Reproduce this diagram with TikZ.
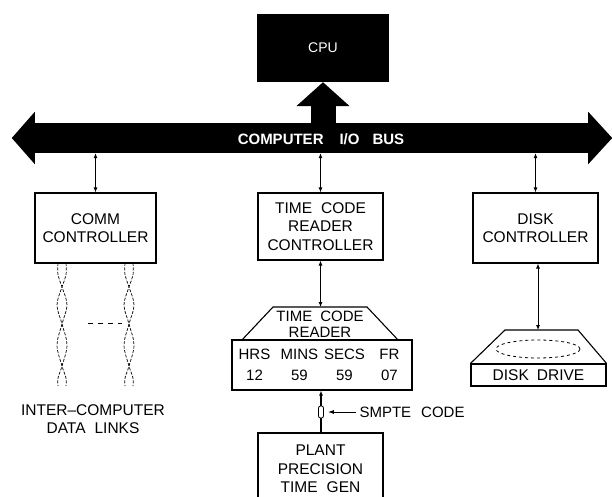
\documentclass[tikz,border=0pt]{standalone}
\usepackage{fontspec}
\setmainfont{Liberation Sans}
\usetikzlibrary{arrows.meta, positioning}

\begin{document}
\begin{tikzpicture}[x=1pt, y=-1pt,
        box/.style={draw, line width=1.1pt, align=center, inner sep=0pt,
                    font=\fontsize{15.5}{18.5}\selectfont},
        link/.style={{Latex[length=5pt,width=4pt]}-{Latex[length=5pt,width=4pt]}, line width=0.8pt},
        pair/.style={line width=0.7pt, dash pattern=on 3pt off 1.5pt}]
    \useasboundingbox (0,0) rectangle (612,497);

    % CPU and the I/O bus
    \node[fill=black, text=white, minimum width=132pt, minimum height=68pt,
          font=\fontsize{14}{16}\selectfont] (cpu) at (323,48) {CPU};
    \node[fill=black, minimum width=553pt, minimum height=30pt, inner sep=0pt] (bus) at (311.5,138) {};
    \fill ([yshift=11pt]bus.north west) -- ([xshift=-23pt]bus.west) -- ([yshift=-11pt]bus.south west) -- cycle;
    \fill ([yshift=11pt]bus.north east) -- ([xshift=24pt]bus.east) -- ([yshift=-11pt]bus.south east) -- cycle;
    \draw[line width=25pt, -{Triangle[length=24pt, width=52pt]}] (bus.center -| cpu.south) -- (cpu.south);
    \node[text=white, font=\bfseries\fontsize{15}{17}\selectfont] (busname) at (321,139)
        {COMPUTER\hspace{16pt}I/O\hspace{13pt}BUS};

    % controllers on the bus
    \node[box, minimum width=121pt, minimum height=70pt] (comm) at (95.5,228) {COMM\\CONTROLLER};
    \node[box, minimum width=125pt, minimum height=67pt] (tcrc) at (320.5,226.5)
        {TIME\hspace{9pt}CODE\\READER\\CONTROLLER};
    \node[box, minimum width=125pt, minimum height=70pt] (diskctl) at (535.5,228) {DISK\\CONTROLLER};

    \draw[link] (bus.south -| comm.north) -- (comm.north);
    \draw[link] (bus.south -| tcrc.north) -- (tcrc.north);
    \draw[link] (bus.south -| diskctl.north) -- (diskctl.north);

    % twisted pairs
    \foreach \c in {62,129}
        \foreach \s in {1,-1}
            \draw[pair] plot[smooth, tension=0.6] coordinates {(\c-4*\s,263) (\c-4*\s,275) (\c,287)
                (\c+5*\s,305) (\c,324) (\c-5*\s,345) (\c,366) (\c+4*\s,378) (\c+4*\s,386)};
    \draw[line width=0.8pt, dash pattern=on 5pt off 5pt] (88,323) -- (122,323);
    \node[align=center, font=\fontsize{15.5}{18}\selectfont] (links) at (93,419)
        {INTER--COMPUTER\\DATA\hspace{9pt}LINKS};

    % time code reader
    \node[box, minimum width=180pt, minimum height=50pt, font=\fontsize{15}{21}\selectfont] (reader) at (322,365)
        {\makebox[45pt]{HRS}\makebox[45pt]{MINS}\makebox[45pt]{SECS}\makebox[45pt]{FR}\\
         \makebox[45pt]{12}\makebox[45pt]{59}\makebox[45pt]{59}\makebox[45pt]{07}};
    \coordinate (readertop) at (320,307);
    \draw[line width=1.1pt] ([xshift=11pt]reader.north west) -- ([xshift=-47pt]readertop)
        -- ([xshift=47pt]readertop) -- ([xshift=-15pt]reader.north east);
    \node[align=center, font=\fontsize{15}{16}\selectfont] (readername) at (320,324) {TIME\hspace{8pt}CODE\\READER};
    \draw[link] (tcrc.south) -- (tcrc.south |- readertop);

    % SMPTE feed from the plant generator
    \node[draw, line width=0.8pt, rounded corners=2pt, minimum width=5pt, minimum height=12pt,
          inner sep=0pt] (coax) at (321,412) {};
    \node[box, minimum width=125pt, minimum height=72pt] (plant) at (320.5,469)
        {PLANT\\PRECISION\\TIME\hspace{9pt}GEN};
    \draw[line width=1.4pt, -{Latex[length=5pt,width=4pt]}] (coax.north) -- (coax.north |- reader.south);
    \draw[line width=1.4pt] (coax.south) -- (coax.south |- plant.north);
    \node[anchor=west, font=\fontsize{15}{17}\selectfont] (smpte) at (356,412) {SMPTE\hspace{10pt}CODE};
    \draw[line width=0.9pt, -{Latex[length=6pt,width=4pt]}, shorten >=4pt] (smpte.west) -- (coax.east);

    % disk drive
    \node[box, minimum width=135pt, minimum height=22pt] (drive) at (538.5,375) {DISK\hspace{8pt}DRIVE};
    \coordinate (drivetop) at (538,330);
    \draw[line width=1.1pt] (drive.north west) -- ([xshift=-33pt]drivetop)
        -- ([xshift=40pt]drivetop) -- (drive.north east);
    \draw[dashed, line width=0.8pt] ([yshift=-19pt]drivetop) ellipse [x radius=42pt, y radius=9pt];
    \draw[link] (diskctl.south -| drivetop) -- (drivetop);
\end{tikzpicture}
\end{document}
